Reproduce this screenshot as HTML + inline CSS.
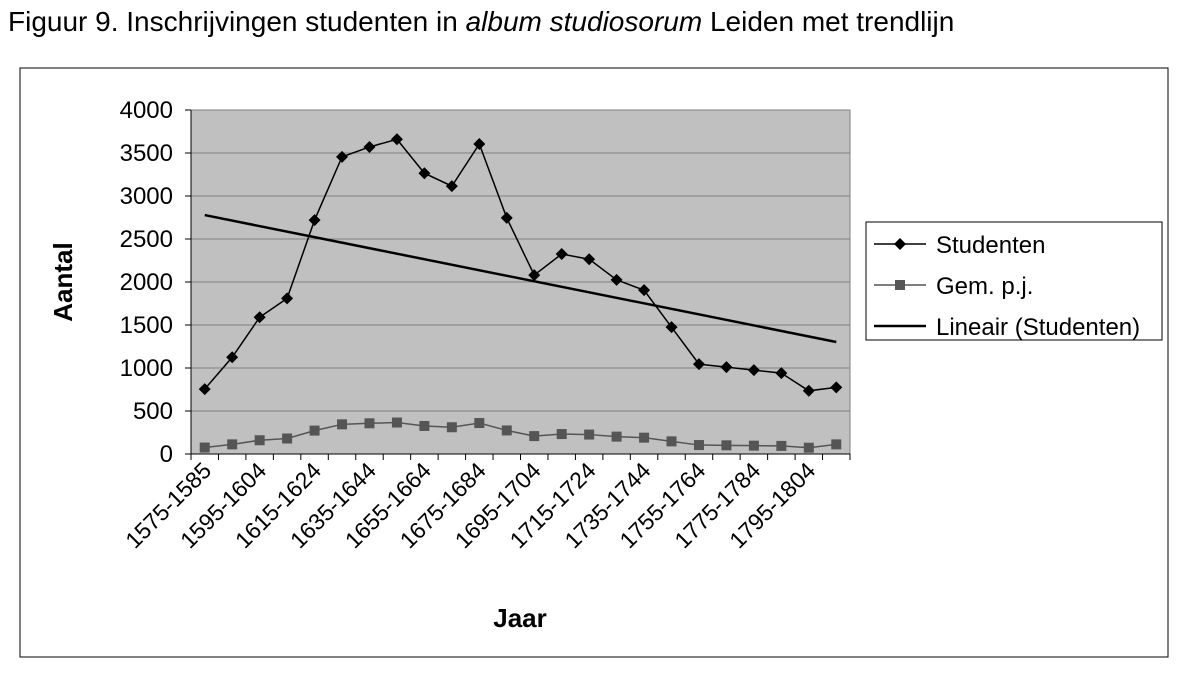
<!DOCTYPE html>
<html><head><meta charset="utf-8"><style>
body{margin:0;background:#fff;}
svg text{font-family:"Liberation Sans",Arial,sans-serif;}
</style></head><body>
<svg width="1188" height="680" xmlns="http://www.w3.org/2000/svg">
<text x="8" y="31" font-size="28">Figuur 9. Inschrijvingen studenten in <tspan font-style="italic">album studiosorum</tspan> Leiden met trendlijn</text>
<rect x="20" y="68" width="1148" height="589" fill="#fff" stroke="#000" stroke-width="1"/>
<rect x="191" y="110" width="659" height="344" fill="#c0c0c0" stroke="#808080"/>
<g id="grid"></g><g id="axes"></g><g id="series"></g>
<text transform="translate(72,282) rotate(-90)" text-anchor="middle" font-size="26" font-weight="bold">Aantal</text>
<text x="520" y="627" text-anchor="middle" font-size="26" font-weight="bold">Jaar</text>
<g>
<rect x="866" y="222" width="296" height="118" fill="#fff" stroke="#000"/>
<line x1="874" y1="244" x2="926" y2="244" stroke="#000" stroke-width="1.5"/>
<path d="M900 238 L906 244 L900 250 L894 244Z" fill="#000"/>
<text x="936" y="253" font-size="24">Studenten</text>
<line x1="874" y1="285" x2="926" y2="285" stroke="#555" stroke-width="1.5"/>
<rect x="895" y="280" width="10" height="10" fill="#555"/>
<text x="936" y="294" font-size="24">Gem. p.j.</text>
<line x1="874" y1="326" x2="926" y2="326" stroke="#000" stroke-width="2.5"/>
<text x="936" y="335" font-size="24">Lineair (Studenten)</text>
</g>
</svg>
<script>
const categories=["1575-1585","1585-1594","1595-1604","1605-1614","1615-1624","1625-1634","1635-1644","1645-1654","1655-1664","1665-1674","1675-1684","1685-1694","1695-1704","1705-1714","1715-1724","1725-1734","1735-1744","1745-1754","1755-1764","1765-1774","1775-1784","1785-1794","1795-1804","1805-1814"];
const studenten=[755,1125,1590,1810,2720,3455,3570,3660,3265,3115,3605,2745,2080,2325,2265,2025,1905,1475,1045,1010,975,940,735,775];
const gem=[75,112,160,180,272,345,357,366,326,311,360,274,208,232,226,202,190,147,104,101,97,94,73,112];
const yTicks=[0,500,1000,1500,2000,2500,3000,3500,4000];
const NS="http://www.w3.org/2000/svg";
const X0=191,X1=850,Y0=454,Y1=110,YMAX=4000;
const step=(X1-X0)/categories.length;
const xs=i=>X0+step*(i+0.5);
const ys=v=>Y0-(v/YMAX)*(Y0-Y1);
function mk(t,a,p){const e=document.createElementNS(NS,t);for(const k in a)e.setAttribute(k,a[k]);p.appendChild(e);return e;}
const grid=document.getElementById('grid'),axes=document.getElementById('axes'),ser=document.getElementById('series');
yTicks.forEach(v=>{
 if(v>0&&v<YMAX){const l=mk('line',{x1:X0,x2:X1,y1:ys(v),y2:ys(v),stroke:'#808080'},grid);}
 mk('line',{x1:X0-6,x2:X0,y1:ys(v),y2:ys(v),stroke:'#000'},axes);
 const t=mk('text',{x:X0-18,y:ys(v)+8,'text-anchor':'end','font-size':24},axes);t.textContent=v;
 
});
mk('line',{x1:X0,x2:X0,y1:Y1,y2:Y0,stroke:'#000'},axes);
mk('line',{x1:X0,x2:X1,y1:Y0,y2:Y0,stroke:'#000'},axes);
for(let i=0;i<=categories.length;i++)mk('line',{x1:X0+step*i,x2:X0+step*i,y1:Y0,y2:Y0+6,stroke:'#000'},axes);
categories.forEach((c,i)=>{if(i%2)return;
 const x=xs(i)+8,y=Y0+18;
 const t=mk('text',{x:x,y:y,'text-anchor':'end','font-size':23,transform:`rotate(-45 ${x} ${y})`},axes);t.textContent=c;
 });
let p=mk('polyline',{points:gem.map((v,i)=>xs(i)+','+ys(v)).join(' '),fill:'none',stroke:'#555','stroke-width':1.5},ser);

gem.forEach((v,i)=>{const r=mk('rect',{x:xs(i)-5,y:ys(v)-5,width:10,height:10,fill:'#555'},ser);
 });
const n=studenten.length;let sx=0,sy=0,sxy=0,sxx=0;
studenten.forEach((v,i)=>{sx+=i;sy+=v;sxy+=i*v;sxx+=i*i;});
const b=(n*sxy-sx*sy)/(n*sxx-sx*sx),a=(sy-b*sx)/n;
const tl=mk('line',{x1:xs(0),y1:ys(a),x2:xs(n-1),y2:ys(a+b*(n-1)),stroke:'#000','stroke-width':2.5},ser);

p=mk('polyline',{points:studenten.map((v,i)=>xs(i)+','+ys(v)).join(' '),fill:'none',stroke:'#000','stroke-width':1.5},ser);

studenten.forEach((v,i)=>{const x=xs(i),y=ys(v);
 const d=mk('path',{d:`M${x} ${y-6} L${x+6} ${y} L${x} ${y+6} L${x-6} ${y}Z`,fill:'#000'},ser);
 });
</script>
</body></html>
